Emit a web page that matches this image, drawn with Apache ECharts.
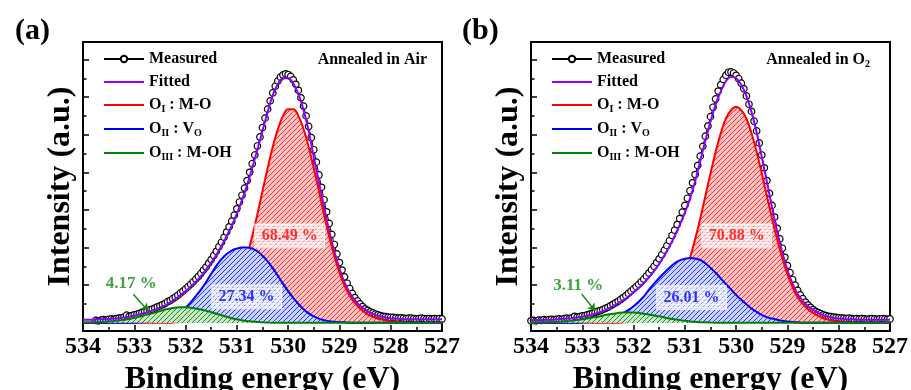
<!DOCTYPE html>
<html>
<head>
<meta charset="utf-8">
<script src="https://cdn.jsdelivr.net/npm/echarts@6/dist/echarts.min.js"></script>
<style>
  html, body { margin: 0; background: #fff; }
  #chart { width: 911px; height: 390px; }
</style>
</head>
<body>
<div id="chart"></div>
<script>
// binding energy grid: components/fit every 0.1 eV from 534 down to 527,
// measured every 0.05 eV
const COMP_START = 534.0, COMP_STEP = 0.1;
const MEAS_STEP = 0.05;
const airMeasStart = 533.75;
const o2MeasStart = 534.0;

// ---- (a) annealed in air ----
const airMeas = [
  0.06,0.05,0.07,0.08,0.07,0.09,0.10,0.09,0.11,0.12,
  0.13,0.15,0.20,0.17,0.19,0.21,0.22,0.25,0.27,0.29,
  0.31,0.34,0.36,0.39,0.42,0.45,0.48,0.51,0.56,0.59,
  0.64,0.68,0.73,0.79,0.84,0.90,0.96,1.02,1.09,1.16,
  1.23,1.31,1.40,1.48,1.58,1.68,1.79,1.90,2.02,2.14,
  2.27,2.41,2.55,2.70,2.86,3.03,3.21,3.39,3.58,3.78,
  4.00,4.23,4.46,4.70,4.94,5.19,5.44,5.68,5.90,6.11,
  6.29,6.43,6.53,6.59,6.62,6.60,6.55,6.46,6.34,6.18,
  5.98,5.76,5.50,5.22,4.92,4.60,4.27,3.93,3.60,3.27,
  2.95,2.64,2.35,2.08,1.83,1.60,1.40,1.22,1.05,0.91,
  0.78,0.67,0.58,0.50,0.43,0.37,0.33,0.29,0.26,0.23,
  0.21,0.19,0.17,0.16,0.15,0.14,0.14,0.13,0.12,0.13,
  0.12,0.11,0.12,0.12,0.11,0.10,0.11,0.12,0.11,0.10,
  0.11,0.10,0.11,0.10,0.11,0.10
];
const airFit = [
  0.08,0.08,0.08,0.09,0.09,0.10,0.11,0.12,0.14,0.16,
  0.19,0.22,0.26,0.30,0.35,0.40,0.46,0.54,0.63,0.73,
  0.84,0.96,1.09,1.24,1.41,1.60,1.81,2.04,2.30,2.58,
  2.90,3.26,3.66,4.12,4.60,5.10,5.60,6.05,6.35,6.50,
  6.50,6.36,6.08,5.66,5.10,4.40,3.74,3.08,2.44,1.90,
  1.44,1.07,0.80,0.60,0.45,0.35,0.27,0.21,0.17,0.14,
  0.12,0.11,0.10,0.09,0.09,0.09,0.09,0.09,0.09,0.09,
  0.09
];
const airOI = [
  0,0,0,0,0,0,0,0,0,0,
  0,0,0,0,0,0,0,0,0.01,0.02,
  0.03,0.04,0.06,0.09,0.13,0.19,0.27,0.38,0.53,0.72,
  0.98,1.34,1.78,2.30,2.88,3.50,4.11,4.68,5.15,5.50,
  5.68,5.68,5.50,5.15,4.68,4.11,3.50,2.88,2.30,1.78,
  1.34,0.98,0.72,0.53,0.38,0.27,0.19,0.13,0.09,0.06,
  0.04,0.03,0.02,0.01,0,0,0,0,0,0,
  0
];
const airOII = [
  0,0,0,0,0,0,0,0,0,0,
  0,0.01,0.015,0.025,0.04,0.06,0.09,0.14,0.20,0.29,
  0.40,0.54,0.71,0.88,1.08,1.30,1.51,1.69,1.83,1.92,
  1.97,2.00,2.00,1.97,1.90,1.78,1.63,1.45,1.25,1.04,
  0.84,0.66,0.50,0.36,0.25,0.17,0.11,0.07,0.04,0.025,
  0.015,0.01,0,0,0,0,0,0,0,0,
  0,0,0,0,0,0,0,0,0,0,
  0
];
const airOIII = [
  0,0.005,0.01,0.015,0.02,0.03,0.045,0.06,0.08,0.10,
  0.13,0.16,0.20,0.23,0.27,0.31,0.35,0.38,0.40,0.41,
  0.41,0.40,0.38,0.35,0.32,0.28,0.24,0.20,0.16,0.12,
  0.09,0.065,0.045,0.03,0.02,0.01,0.005,0,0,0,
  0,0,0,0,0,0,0,0,0,0,
  0,0,0,0,0,0,0,0,0,0,
  0,0,0,0,0,0,0,0,0,0,
  0
];

// ---- (b) annealed in O2 ----
const o2Meas = [
  0.05,0.06,0.05,0.07,0.06,0.08,0.07,0.08,0.09,0.08,
  0.09,0.10,0.09,0.11,0.12,0.11,0.13,0.17,0.15,0.16,
  0.18,0.19,0.21,0.23,0.25,0.27,0.30,0.32,0.35,0.38,
  0.41,0.45,0.49,0.53,0.57,0.62,0.67,0.72,0.78,0.84,
  0.90,0.96,1.02,1.09,1.16,1.24,1.32,1.41,1.50,1.60,
  1.70,1.81,1.93,2.05,2.18,2.32,2.46,2.61,2.77,2.94,
  3.12,3.31,3.51,3.72,3.94,4.18,4.43,4.69,4.96,5.23,
  5.48,5.73,5.95,6.16,6.33,6.47,6.58,6.66,6.67,6.64,
  6.58,6.49,6.37,6.22,6.03,5.81,5.62,5.36,5.10,4.78,
  4.46,4.12,3.78,3.44,3.12,2.81,2.51,2.23,1.98,1.74,
  1.52,1.33,1.15,1.00,0.86,0.74,0.64,0.55,0.47,0.41,
  0.35,0.30,0.27,0.24,0.21,0.19,0.17,0.16,0.15,0.14,
  0.13,0.12,0.12,0.11,0.12,0.11,0.10,0.11,0.10,0.11,
  0.10,0.09,0.10,0.11,0.10,0.09,0.10,0.11,0.10,0.09,
  0.10
];
const o2Fit = [
  0.07,0.07,0.07,0.08,0.08,0.09,0.10,0.11,0.12,0.14,
  0.16,0.19,0.22,0.26,0.31,0.37,0.44,0.52,0.60,0.70,
  0.81,0.93,1.06,1.21,1.38,1.57,1.79,2.03,2.30,2.60,
  2.93,3.30,3.76,4.30,4.84,5.35,5.80,6.15,6.42,6.54,
  6.50,6.33,6.03,5.60,5.06,4.40,3.74,3.06,2.42,1.87,
  1.40,1.04,0.76,0.58,0.44,0.34,0.26,0.20,0.16,0.13,
  0.11,0.10,0.09,0.09,0.08,0.08,0.08,0.08,0.08,0.08,
  0.08
];
const o2OI = [
  0,0,0,0,0,0,0,0,0,0,
  0,0,0,0,0,0,0,0,0.01,0.02,
  0.035,0.05,0.08,0.12,0.18,0.26,0.36,0.50,0.67,0.95,
  1.29,1.72,2.22,2.77,3.37,3.97,4.54,5.04,5.43,5.65,
  5.74,5.65,5.43,5.04,4.54,3.97,3.37,2.77,2.22,1.72,
  1.29,0.95,0.67,0.50,0.36,0.26,0.18,0.12,0.08,0.05,
  0.035,0.02,0.01,0,0,0,0,0,0,0,
  0
];
const o2OII = [
  0,0,0,0,0,0,0,0,0,0,
  0.01,0.02,0.03,0.05,0.07,0.10,0.14,0.19,0.26,0.34,
  0.44,0.56,0.70,0.88,1.04,1.19,1.33,1.46,1.58,1.66,
  1.70,1.72,1.71,1.67,1.58,1.46,1.33,1.18,1.03,0.89,
  0.74,0.61,0.49,0.38,0.29,0.21,0.15,0.11,0.08,0.05,
  0.03,0.02,0.01,0,0,0,0,0,0,0,
  0,0,0,0,0,0,0,0,0,0,
  0
];
const o2OIII = [
  0,0.005,0.005,0.01,0.015,0.02,0.03,0.04,0.055,0.07,
  0.09,0.11,0.14,0.16,0.19,0.22,0.24,0.26,0.27,0.27,
  0.27,0.26,0.24,0.22,0.19,0.17,0.14,0.11,0.09,0.07,
  0.05,0.035,0.025,0.015,0.01,0.005,0,0,0,0,
  0,0,0,0,0,0,0,0,0,0,
  0,0,0,0,0,0,0,0,0,0,
  0,0,0,0,0,0,0,0,0,0,
  0
];

// peak area percentages: [text, energy, intensity] where the label sits
const airPct = [["68.49 %", 529.97, 2.31], ["27.34 %", 530.81, 0.69], ["4.17 %", 533.06, 1.04]];
const o2Pct = [["70.88 %", 529.99, 2.31], ["26.01 %", 530.87, 0.67], ["3.11 %", 533.08, 0.98]];
const airArrow = [[533.02, 0.76], [532.73, 0.32]];
const o2Arrow = [[533.01, 0.76], [532.75, 0.32]];

const xTicks = [534, 533, 532, 531, 530, 529, 528, 527];
const yMajor = [0, 1, 2, 3, 4, 5, 6, 7];
const yMinor = [0.5, 1.5, 2.5, 3.5, 4.5, 5.5, 6.5];

const FONT = 'Liberation Serif';
const names = ['Measured', 'Fitted', 'OI', 'OII', 'OIII'];
const legendText = {
  Measured: '{b|Measured}',
  Fitted: '{b|Fitted}',
  OI: '{b|O}{s|I}{b| : M-O}',
  OII: '{b|O}{s|II}{b| : V}{s|O}',
  OIII: '{b|O}{s|III}{b| : M-OH}'
};
const richText = {
  b: { fontFamily: FONT, fontWeight: 'bold', fontSize: 16, color: '#000', lineHeight: 18 },
  s: { fontFamily: FONT, fontWeight: 'bold', fontSize: 10, color: '#000', lineHeight: 10, verticalAlign: 'bottom' }
};

function pairs(start, step, vals) {
  return vals.map((v, i) => [+(start - step * i).toFixed(2), v]);
}

function hatch(bg, fg) {
  const s = 5;
  const c = document.createElement('canvas');
  c.width = s; c.height = s;
  const g = c.getContext('2d');
  g.fillStyle = bg;
  g.fillRect(0, 0, s, s);
  g.strokeStyle = fg;
  g.lineWidth = 1;
  g.beginPath();
  g.moveTo(-1, s + 1); g.lineTo(s + 1, -1);
  g.moveTo(-1, 1); g.lineTo(1, -1);
  g.moveTo(s - 1, s + 1); g.lineTo(s + 1, s - 1);
  g.stroke();
  return { image: c, repeat: 'repeat' };
}

function stripes() {
  const c = document.createElement('canvas');
  c.width = 4; c.height = 24;
  const g = c.getContext('2d');
  for (let y = 0; y < 24; y++) {
    g.fillStyle = y % 3 === 2 ? 'rgba(255,255,255,0.3)' : 'rgba(255,255,255,0.8)';
    g.fillRect(0, y, 4, 1);
  }
  return c;
}
const stripeBg = stripes();

const redFill = hatch('#ffc4c4', '#ff2a2a');
const blueFill = hatch('#ccd3ff', '#1f33ff');
const greenFill = hatch('#c8e8c8', '#148f14');

function panelSeries(p, d) {
  const yi = 2 * p;
  const base = { xAxisIndex: p, yAxisIndex: yi, animation: false };
  const comp = (name, vals, color, fill, z) => Object.assign({}, base, {
    name, type: 'line', smooth: 0.4, symbol: 'none', z,
    data: pairs(COMP_START, COMP_STEP, vals),
    lineStyle: { color, width: 2 },
    itemStyle: { color },
    areaStyle: { color: fill, opacity: 1, origin: 0 }
  });
  const pctLabel = (item, color, boxed) => ({
    value: [item[1], item[2]],
    label: Object.assign({
      show: true, position: 'inside', formatter: item[0],
      fontFamily: FONT, fontWeight: 'bold', fontSize: boxed ? 16 : 17, color, lineHeight: 16
    }, boxed ? {
      backgroundColor: { image: stripeBg },
      borderColor: 'rgba(255,255,255,0.9)', borderWidth: 1,
      padding: [4, 7]
    } : {})
  });
  return [
    Object.assign({}, base, {
      name: 'Measured', type: 'line', z: 2,
      data: pairs(d.measStart, MEAS_STEP, d.meas),
      symbol: 'circle', symbolSize: 6.5, showAllSymbol: true,
      lineStyle: { color: '#000', width: 1 },
      itemStyle: { color: '#fff', borderColor: '#000', borderWidth: 1.2 }
    }),
    Object.assign({}, base, {
      name: 'Fitted', type: 'line', smooth: 0.4, symbol: 'none', z: 3,
      data: pairs(COMP_START, COMP_STEP, d.fit),
      lineStyle: { color: '#8b00ff', width: 2 },
      itemStyle: { color: '#8b00ff' }
    }),
    comp('OI', d.oi, '#ff0000', redFill, 4),
    comp('OII', d.oii, '#0000ff', blueFill, 5),
    comp('OIII', d.oiii, '#008000', greenFill, 6),
    Object.assign({}, base, {
      type: 'scatter', symbolSize: 0, silent: true, z: 10,
      data: [
        pctLabel(d.pct[0], '#ff0000', true),
        pctLabel(d.pct[1], '#0000ff', true),
        pctLabel(d.pct[2], '#0f8a0f', false)
      ],
      markLine: {
        silent: true, animation: false,
        symbol: ['none', 'arrow'], symbolSize: 7,
        lineStyle: { color: '#0f8a0f', width: 1.5, type: 'solid' },
        label: { show: false },
        data: [[{ coord: d.arrow[0] }, { coord: d.arrow[1] }]]
      }
    })
  ];
}

function xAxis(p) {
  return {
    type: 'value', gridIndex: p, min: 527, max: 534, interval: 1, inverse: true,
    axisLine: { show: true, onZero: false, lineStyle: { color: '#000', width: 2 } },
    axisTick: { inside: true, length: 6, lineStyle: { color: '#000', width: 1.5 } },
    minorTick: { show: true, splitNumber: 2, length: 4, lineStyle: { color: '#000', width: 1.5 } },
    axisLabel: {
      fontFamily: FONT, fontWeight: 'bold', fontSize: 24, color: '#000', margin: 4,
      customValues: xTicks
    },
    splitLine: { show: false },
    name: 'Binding energy (eV)', nameLocation: 'middle', nameGap: 22,
    nameTextStyle: { fontFamily: FONT, fontWeight: 'bold', fontSize: 32, color: '#000' }
  };
}

function yAxes(p) {
  const common = { type: 'value', gridIndex: p, min: -0.22, max: 7.465, position: 'left',
    splitLine: { show: false }, axisLabel: { show: false } };
  return [
    Object.assign({}, common, {
      axisLine: { show: true, onZero: false, lineStyle: { color: '#000', width: 2 } },
      axisTick: { inside: true, length: 6, customValues: yMajor, lineStyle: { color: '#000', width: 1.5 } },
      name: 'Intensity (a.u.)', nameLocation: 'middle', nameGap: 6,
      nameTextStyle: { fontFamily: FONT, fontWeight: 'bold', fontSize: 32, color: '#000' }
    }),
    Object.assign({}, common, {
      axisLine: { show: false },
      axisTick: { inside: true, length: 3.5, customValues: yMinor, lineStyle: { color: '#000', width: 1.5 } }
    })
  ];
}

function legend(left) {
  return {
    left, top: 51, padding: 0, orient: 'vertical', itemWidth: 40, itemHeight: 8, itemGap: 7,
    selectedMode: false,
    // line-only icons for the fitted curves, line + circle for the measured data
    data: names.map(n => n === 'Measured'
      ? { name: n, lineStyle: { width: 2 } }
      : { name: n, itemStyle: { opacity: 0 } }),
    formatter: n => legendText[n],
    textStyle: { rich: richText }
  };
}

const airData = { meas: airMeas, measStart: airMeasStart, fit: airFit, oi: airOI, oii: airOII, oiii: airOIII, pct: airPct, arrow: airArrow };
const o2Data = { meas: o2Meas, measStart: o2MeasStart, fit: o2Fit, oi: o2OI, oii: o2OII, oiii: o2OIII, pct: o2Pct, arrow: o2Arrow };

const titleStyle = { fontFamily: FONT, fontWeight: 'bold', color: '#000' };
const gridBase = { top: 42, width: 359, height: 289, show: true, borderColor: '#000', borderWidth: 2,
  backgroundColor: 'transparent', outerBoundsMode: 'none', containLabel: false };
const option = {
  animation: false,
  backgroundColor: '#fff',
  title: [
    { text: '(a)', left: 15, top: 16, padding: 0, textStyle: Object.assign({ fontSize: 30 }, titleStyle) },
    { text: '(b)', left: 462, top: 16, padding: 0, textStyle: Object.assign({ fontSize: 30 }, titleStyle) },
    { text: '{b|Annealed in Air}', right: 484, top: 51, padding: 0, textStyle: { rich: richText } },
    { text: '{b|Annealed in O}{s|2}', right: 41, top: 51, padding: 0, textStyle: { rich: richText } }
  ],
  legend: [legend(103), legend(551)],
  grid: [
    Object.assign({ left: 83 }, gridBase),
    Object.assign({ left: 531 }, gridBase)
  ],
  xAxis: [xAxis(0), xAxis(1)],
  yAxis: yAxes(0).concat(yAxes(1)),
  series: panelSeries(0, airData).concat(panelSeries(1, o2Data))
};

const myChart = echarts.init(document.getElementById('chart'), null, { renderer: 'canvas' });
myChart.setOption(option);
</script>
</body>
</html>
